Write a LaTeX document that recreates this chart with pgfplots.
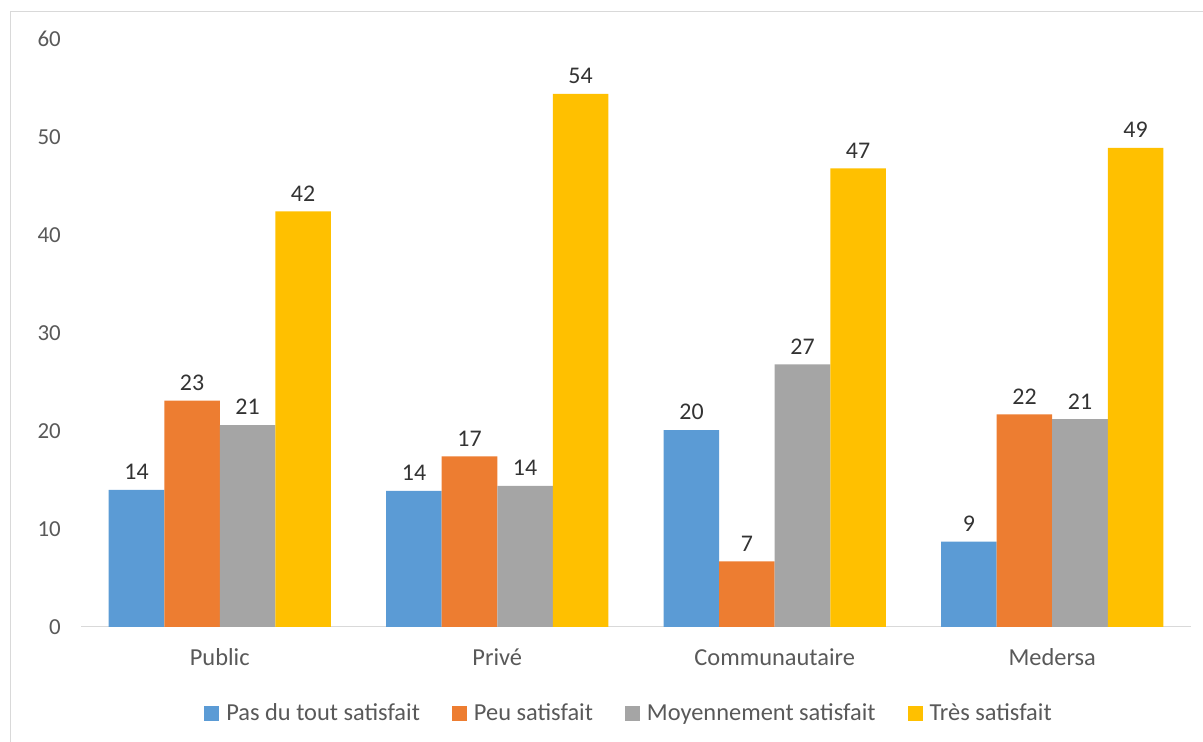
\documentclass[border=0pt]{standalone}
\usepackage{fontspec}
\setmainfont{Carlito}
\usepackage{pgfplots}
\pgfplotsset{compat=1.18}
\definecolor{cblue}{HTML}{5B9BD5}
\definecolor{corange}{HTML}{ED7D31}
\definecolor{cgray}{HTML}{A5A5A5}
\definecolor{cyellow}{HTML}{FFC000}
\definecolor{tgray}{HTML}{595959}
\definecolor{dgray}{HTML}{333333}
\definecolor{lgray}{HTML}{D9D9D9}
\begin{document}
\begin{tikzpicture}[x=1bp,y=1bp]
\path[use as bounding box] (0,0) rectangle (1203,742);
\draw[lgray,line width=1bp] (10,0) -- (10,730) -- (1203,730);
\begin{axis}[
  at={(81bp,115bp)}, anchor=south west,
  width=1110bp, height=588bp, scale only axis,
  xmin=-0.5, xmax=3.5, ymin=0, ymax=60,
  ybar=0pt, bar width=55.5bp,
  axis x line*=bottom, axis y line*=left,
  x axis line style={draw=lgray,line width=1bp},
  y axis line style={draw=none},
  major tick length=0pt,
  xtick={0,1,2,3},
  xticklabels={Public,Privé,Communautaire,Medersa},
  ytick={0,10,20,30,40,50,60},
  /pgf/number format/assume math mode=true,
  yticklabel style={font=\fontsize{23}{23}\selectfont, text=tgray, inner sep=0pt, anchor=east, xshift=-20bp},
  xticklabel style={font=\fontsize{24.5}{24.5}\selectfont, text=tgray, inner sep=0pt, anchor=base, yshift=-39bp},
  nodes near coords={\pgfmathprintnumber[fixed,precision=0]{\pgfplotspointmeta}},
  every node near coord/.append style={font=\fontsize{24}{24}\selectfont, text=dgray, inner sep=0pt, anchor=south, yshift=10bp},
  legend columns=4,
  legend style={at={(0.4937,-0.1463)}, anchor=center, draw=none, fill=none,
    font=\fontsize{24.5}{24.5}\selectfont, text=tgray,
    /tikz/every even column/.append style={column sep=30bp}},
  legend image code/.code={\fill[#1] (0bp,-7.5bp) rectangle (15bp,7.5bp); \path (20bp,0bp);},
]
\addplot[fill=cblue, draw=none, bar shift=-83.25bp] coordinates {(0,14) (1,13.9) (2,20.1) (3,8.7)};
\addplot[fill=corange, draw=none, bar shift=-27.75bp] coordinates {(0,23.1) (1,17.4) (2,6.7) (3,21.7)};
\addplot[fill=cgray, draw=none, bar shift=27.75bp] coordinates {(0,20.6) (1,14.4) (2,26.8) (3,21.2)};
\addplot[fill=cyellow, draw=none, bar shift=83.25bp] coordinates {(0,42.4) (1,54.4) (2,46.8) (3,48.9)};
\legend{Pas du tout satisfait, Peu satisfait, Moyennement satisfait, Très satisfait}
\end{axis}
\end{tikzpicture}
\end{document}
